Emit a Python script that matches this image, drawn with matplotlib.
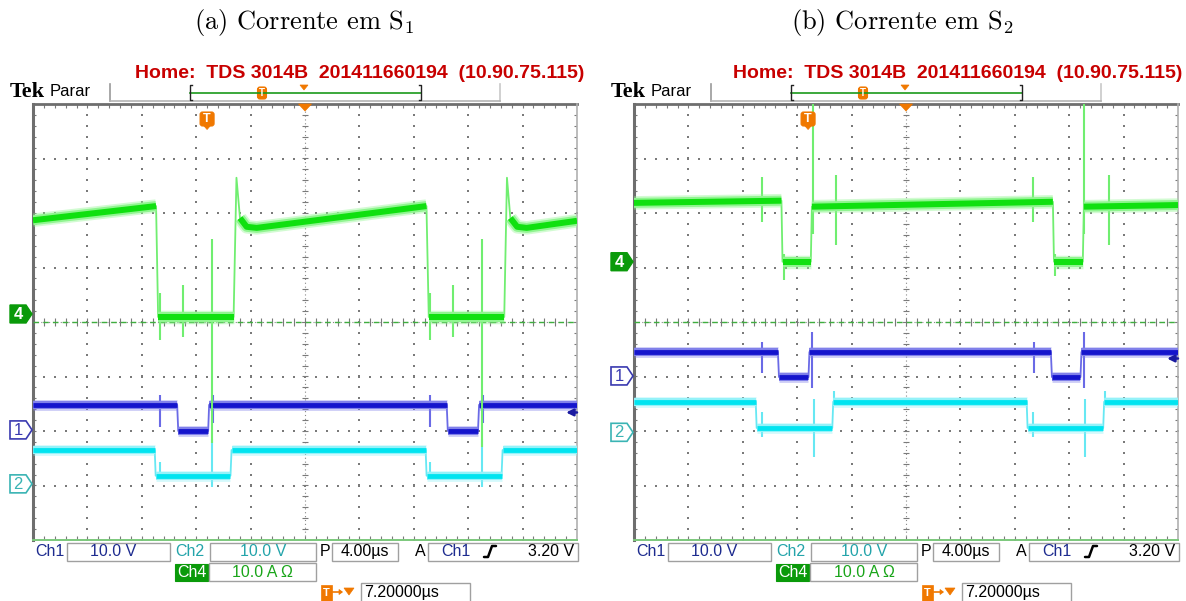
import numpy as np
import matplotlib
matplotlib.use("Agg")
import matplotlib.pyplot as plt
from matplotlib.patches import Polygon, Rectangle, FancyBboxPatch

plt.rcParams['mathtext.fontset'] = 'cm'
W, H = 1186, 601

# ---------------- data ----------------
titles = ["(a) Corrente em S$_1$", "(b) Corrente em S$_2$"]
header_text = "Home:  TDS 3014B  201411660194  (10.90.75.115)"
status_text = "Parar"
time_per_div = 4.0        # us / div
trigger_delay = 7.2       # us
trigger_level = 3.20      # V (Ch1)
ch1_scale = 10.0          # V / div
ch2_scale = 10.0          # V / div
ch4_scale = 10.0          # A / div
ch1_label = "10.0 V"
ch2_label = "10.0 V"
ch4_label = "10.0 A \u03a9"
time_label = "4.00\u00b5s"
trig_label = "3.20 V"
delay_label = "7.20000\u00b5s"

# panel (a): Ch4 = current in S1 [A], Ch1 / Ch2 = gate signals [V]
a_i_t = [0.0, 9.05, 9.2, 14.75, 14.96, 15.22, 15.71, 16.45, 28.93, 29.1, 34.65, 34.85, 35.1, 35.6, 36.3, 40.0]
a_i_v = [17.2, 19.8, -0.55, -0.55, 25.0, 17.6, 16.0, 15.8, 19.8, -0.55, -0.55, 25.0, 17.6, 16.0, 15.8, 17.1]
a_i_spk_t = [9.34, 11.03, 13.16, 29.19, 30.88, 33.05]
a_i_spk_hi = [3.9, 5.3, 13.8, 3.9, 5.3, 13.8]
a_i_spk_lo = [-4.8, -4.2, -23.7, -4.8, -4.2, -24.4]

a_v1_t = [0.0, 10.6, 10.68, 12.88, 12.95, 30.42, 30.5, 32.72, 32.8, 40.0]
a_v1_v = [4.6, 4.6, -0.2, -0.2, 4.6, 4.6, -0.2, -0.2, 4.6, 4.6]
a_v1_spk_t = [9.34, 13.2, 29.19, 33.1]
a_v1_spk_hi = [6.4, 6.4, 6.4, 6.4]
a_v1_spk_lo = [0.5, 1.3, 0.5, 1.3]

a_v2_t = [0.0, 8.95, 9.02, 14.52, 14.6, 28.87, 28.94, 34.45, 34.53, 40.0]
a_v2_v = [6.2, 6.2, 1.5, 1.5, 6.2, 6.2, 1.5, 1.5, 6.2, 6.2]
a_v2_spk_t = [9.34, 13.16, 29.19, 33.05]
a_v2_spk_hi = [4.1, 8.3, 4.1, 8.3]
a_v2_spk_lo = [1.0, -0.6, 1.0, -0.6]

# panel (b): Ch4 = current in S2 [A]
b_i_t = [0.0, 10.84, 10.92, 13.0, 13.08, 30.8, 30.88, 33.0, 33.08, 40.0]
b_i_v = [10.8, 11.2, 0.0, 0.0, 10.1, 11.0, 0.0, 0.0, 10.1, 10.4]
b_i_spk_t = [9.38, 11.03, 13.16, 14.85, 29.34, 30.98, 33.12, 34.93]
b_i_spk_hi = [15.6, 1.5, 29.5, 15.9, 15.6, 1.5, 29.5, 15.9]
b_i_spk_lo = [7.2, -3.4, 5.0, 3.1, 7.2, -2.7, 5.0, 3.1]

b_v1_t = [0.0, 10.58, 10.66, 12.83, 12.9, 30.65, 30.73, 32.83, 32.9, 40.0]
b_v1_v = [4.4, 4.4, -0.2, -0.2, 4.4, 4.4, -0.2, -0.2, 4.4, 4.4]
b_v1_spk_t = [9.38, 13.1, 29.41, 33.1]
b_v1_spk_hi = [6.3, 8.1, 6.3, 8.1]
b_v1_spk_lo = [0.6, -2.3, 0.6, -2.3]

b_v2_t = [0.0, 8.95, 9.02, 14.58, 14.65, 28.87, 28.94, 34.5, 34.57, 40.0]
b_v2_v = [5.6, 5.6, 0.8, 0.8, 5.6, 5.6, 0.8, 0.8, 5.6, 5.6]
b_v2_spk_t = [9.38, 13.24, 14.68, 29.34, 33.16, 34.6]
b_v2_spk_hi = [3.8, 6.1, 7.5, 3.8, 6.1, 7.5]
b_v2_spk_lo = [-0.8, -4.5, 5.6, -0.8, -4.5, 5.6]

# channel ground positions on screen (divisions from centre)
a_offsets = {"ch1": -1.98, "ch2": -2.97, "ch4": 0.147}
b_offsets = {"ch1": -0.99, "ch2": -2.024, "ch4": 1.106}

# ---------------- styling ----------------
GREEN_CORE, GREEN_FR, GREEN_EDGE = "#10e010", "#90f590", "#70ee70"
BLUE_CORE, BLUE_FR, BLUE_EDGE = "#1414cc", "#8080ea", "#6a6ae6"
CYAN_CORE, CYAN_FR, CYAN_EDGE = "#00e4f0", "#94f2f9", "#66e8f3"
ORANGE = "#f07800"
CH1_TXT, CH2_TXT, CH4_TXT = "#1d2b8f", "#23a4aa", "#1aa51a"
BOXC = "#a0a0a0"
SANS = "Liberation Sans"

fig = plt.figure(figsize=(W / 100, H / 100), dpi=100)
fig.patch.set_facecolor("white")
bg = fig.add_axes([0, 0, 1, 1], zorder=10)
bg.set_xlim(0, W)
bg.set_ylim(H, 0)
bg.axis("off")


def rect_fig(x0, y0, x1, y1):
    return [x0 / W, 1 - y1 / H, (x1 - x0) / W, (y1 - y0) / H]


def to_bg(ax, x, y):
    d = ax.transData.transform((x, y))
    return bg.transData.inverted().transform(d)


def draw_grid(g):
    g.set_xlim(0, 10)
    g.set_ylim(-4, 4)
    g.axis("off")
    sx = np.arange(0, 10.001, 0.2)
    sy = np.arange(-4, 4.001, 0.2)
    gc = "#7a7a7a"
    for xv in [1, 2, 3, 4, 6, 7, 8, 9]:
        g.scatter(np.full_like(sy, xv), sy, s=1.8, c=gc, marker="s", lw=0)
    for yv in [-3, -2, -1, 1, 2, 3]:
        g.scatter(sx, np.full_like(sx, yv), s=1.8, c=gc, marker="s", lw=0)
    g.plot([5, 5], [-4, 4], ls=(0, (1, 2.5)), color="#888888", lw=0.8)
    g.plot([0, 10], [0, 0], ls=(0, (1, 2.5)), color="#888888", lw=0.8)
    g.hlines(sy, 5 - 0.06, 5 + 0.06, color=gc, lw=0.8)
    g.vlines(sx, -0.075, 0.075, color=gc, lw=0.8)
    g.hlines(sy, 0, 0.06, color=gc, lw=0.8)
    g.hlines(sy, 10 - 0.06, 10, color=gc, lw=0.8)
    g.vlines(sx, 4 - 0.075, 4, color=gc, lw=0.8)
    g.vlines(sx, -4, -4 + 0.075, color=gc, lw=0.8)
    # centre dashed green reference line
    g.plot([0, 10], [0, 0], ls=(0, (4, 3)), color="#3fae3f", lw=1.0, zorder=3)
    # frame
    g.plot([0, 10], [4, 4], color="#6e6e6e", lw=2.0, clip_on=False)
    g.plot([0, 0], [-4, 4], color="#6e6e6e", lw=2.2, clip_on=False)
    g.plot([10, 10], [-4, 4], color="#b0b0b0", lw=1.2, clip_on=False)
    g.plot([0, 10], [-4, -4], color="#7cc87c", lw=1.4, clip_on=False)


def draw_channel(ax, t, v, st, shi, slo, core, fr, edge, band_px):
    t = np.asarray(t, float)
    v = np.asarray(v, float)
    ax.vlines(st, slo, shi, color=edge, lw=1.5, zorder=2)
    ax.plot(t, v, color=edge, lw=1.3, zorder=2)
    pts = ax.transData.transform(np.column_stack([t, v]))
    flat = []
    for i in range(len(t) - 1):
        dx = abs(pts[i + 1, 0] - pts[i, 0])
        dy = abs(pts[i + 1, 1] - pts[i, 1])
        flat.append(dx > 3 and dy < 2.0 * dx)
    i = 0
    while i < len(flat):
        if flat[i]:
            j = i
            while j < len(flat) and flat[j]:
                j += 1
            seg_t, seg_v = t[i:j + 1], v[i:j + 1]
            ax.plot(seg_t, seg_v, color=fr, lw=band_px * 0.72 * 1.35, alpha=0.4,
                    solid_capstyle="butt", zorder=3)
            ax.plot(seg_t, seg_v, color=fr, lw=band_px * 0.72, zorder=3,
                    solid_capstyle="butt")
            ax.plot(seg_t, seg_v, color=core, lw=band_px * 0.72 * 0.6, zorder=4,
                    solid_capstyle="butt")
            i = j
        else:
            i += 1


def box(x0, y0, x1, y1, ec=BOXC, fc="white", lw=1.0):
    bg.add_patch(Rectangle((x0, y0), x1 - x0, y1 - y0, ec=ec, fc=fc, lw=lw))


def chan_marker(xr, yc, label, filled, color):
    x0, x1 = xr - 22, xr
    pts = [(x0, yc - 9), (x1 - 6, yc - 9), (x1, yc), (x1 - 6, yc + 9), (x0, yc + 9)]
    if filled:
        bg.add_patch(Polygon(pts, closed=True, fc=color, ec=color, lw=1))
        bg.text(x0 + 8, yc + 0.5, label, color="white", fontsize=12, fontweight="bold",
                family=SANS, ha="center", va="center")
    else:
        bg.add_patch(Polygon(pts, closed=True, fc="white", ec=color, lw=1.2))
        bg.text(x0 + 8, yc + 0.5, label, color=color, fontsize=12,
                family=SANS, ha="center", va="center")


def t_icon(xc, y0, w, h, fs, point=False):
    bg.add_patch(FancyBboxPatch((xc - w / 2, y0), w, h, boxstyle="round,pad=0,rounding_size=2.5",
                                fc=ORANGE, ec=ORANGE, lw=0.8))
    if point:
        bg.add_patch(Polygon([(xc - 3.5, y0 + h - 0.5), (xc + 3.5, y0 + h - 0.5), (xc, y0 + h + 3.5)],
                             closed=True, fc=ORANGE, ec=ORANGE, lw=0.5))
    bg.text(xc, y0 + h / 2 + 0.5, "T", color="white", fontsize=fs, fontweight="bold",
            family=SANS, ha="center", va="center")


def down_tri(xc, ytop, w, h):
    bg.add_patch(Polygon([(xc - w / 2, ytop), (xc + w / 2, ytop), (xc, ytop + h)],
                         closed=True, fc=ORANGE, ec=ORANGE, lw=0.5))


panels = [
    (0, titles[0], a_offsets,
     (a_i_t, a_i_v, a_i_spk_t, a_i_spk_hi, a_i_spk_lo),
     (a_v1_t, a_v1_v, a_v1_spk_t, a_v1_spk_hi, a_v1_spk_lo),
     (a_v2_t, a_v2_v, a_v2_spk_t, a_v2_spk_hi, a_v2_spk_lo)),
    (601, titles[1], b_offsets,
     (b_i_t, b_i_v, b_i_spk_t, b_i_spk_hi, b_i_spk_lo),
     (b_v1_t, b_v1_v, b_v1_spk_t, b_v1_spk_hi, b_v1_spk_lo),
     (b_v2_t, b_v2_v, b_v2_spk_t, b_v2_spk_hi, b_v2_spk_lo)),
]

for ox, title, offs, d4, d1, d2 in panels:
    gx0, gx1, gy0, gy1 = 33 + ox, 577 + ox, 104, 540
    g = fig.add_axes(rect_fig(gx0, gy0, gx1, gy1), zorder=1)
    draw_grid(g)
    t_span = 10 * time_per_div
    axes = {}
    for k, (name, sc, data, cols, bpx) in enumerate([
            ("ch2", ch2_scale, d2, (CYAN_CORE, CYAN_FR, CYAN_EDGE), 8),
            ("ch1", ch1_scale, d1, (BLUE_CORE, BLUE_FR, BLUE_EDGE), 8),
            ("ch4", ch4_scale, d4, (GREEN_CORE, GREEN_FR, GREEN_EDGE), 10)]):
        ax = fig.add_axes(rect_fig(gx0, gy0, gx1, gy1), zorder=2 + k)
        o = offs[name]
        ax.set_xlim(0, t_span)
        ax.set_ylim(sc * (-4 - o), sc * (4 - o))
        ax.axis("off")
        draw_channel(ax, *data, *cols, bpx)
        axes[name] = ax

    # trigger level arrow (Ch1) at right edge
    ax1 = axes["ch1"]
    ax1.annotate("", xy=(t_span - 0.8, trigger_level), xytext=(t_span, trigger_level),
                 arrowprops=dict(arrowstyle="-|>", color="#1a1aa0", lw=1.8, mutation_scale=10,
                                 shrinkA=0, shrinkB=0), annotation_clip=False, zorder=6)

    # channel ground markers
    _, y4 = to_bg(axes["ch4"], 0, 0)
    _, y1 = to_bg(axes["ch1"], 0, 0)
    _, y2 = to_bg(axes["ch2"], 0, 0)
    chan_marker(gx0 - 1, y4, "4", True, "#0a9a0a")
    chan_marker(gx0 - 1, y1, "1", False, "#3a3ab0")
    chan_marker(gx0 - 1, y2, "2", False, "#3ab4b4")

    # trigger point icon at top of graticule
    xt, _ = to_bg(axes["ch1"], t_span / 2 - trigger_delay, 0)
    t_icon(xt, 112, 14, 14, 9, point=True)
    xc, _ = to_bg(axes["ch1"], t_span / 2, 0)
    down_tri(xc, 104, 13, 7)

    # title
    bg.text(304 + ox - 3 * (ox > 0), 23, title, family="cmr10", fontsize=19,
            ha="center", va="center", color="black")
    # header (right aligned)
    hx = 584 if ox == 0 else 1182
    bg.text(hx, 73, header_text, color="#c80000", fontsize=14, fontweight="bold",
            family=SANS, ha="right", va="center")
    bg.text(10 + ox, 92, "Tek", color="black", fontsize=16, fontweight="bold",
            family="Liberation Serif", ha="left", va="center")
    bg.text(50 + ox, 91, status_text, color="black", fontsize=12, family=SANS,
            ha="left", va="center")
    # record bar
    bg.plot([110 + ox, 110 + ox], [84, 101], color="#9a9a9a", lw=1.2)
    bg.plot([500 + ox, 500 + ox], [84, 101], color="#c8c8c8", lw=1.2)
    bg.plot([110 + ox, 500 + ox], [101, 101], color="#b4b4b4", lw=1.2)
    bg.plot([190 + ox, 421 + ox], [93, 93], color="#1a9a1a", lw=1.2)
    bg.plot([192 + ox, 190 + ox, 190 + ox, 192 + ox], [85, 85, 100, 100], color="#222222", lw=1.0)
    bg.plot([419 + ox, 421 + ox, 421 + ox, 419 + ox], [85, 85, 100, 100], color="#222222", lw=1.0)
    t_icon(262 + ox, 87, 9, 12, 7)
    down_tri(304 + ox, 85, 8, 5)

    # bottom readouts
    fs = 11.5
    bg.text(35 + ox, 551, "Ch1", color=CH1_TXT, fontsize=fs, family=SANS, ha="left", va="center")
    box(67 + ox, 543, 170 + ox, 561)
    bg.text(113 + ox, 551.5, ch1_label, color=CH1_TXT, fontsize=fs, family=SANS, ha="center", va="center")
    bg.text(175 + ox, 551, "Ch2", color=CH2_TXT, fontsize=fs, family=SANS, ha="left", va="center")
    box(210 + ox, 543, 316 + ox, 561)
    bg.text(263 + ox, 551.5, ch2_label, color=CH2_TXT, fontsize=fs, family=SANS, ha="center", va="center")
    bg.text(320 + ox, 551, "P", color="black", fontsize=fs, family=SANS, ha="left", va="center")
    box(332 + ox, 543, 398 + ox, 561)
    bg.text(365 + ox, 551.5, time_label, color="black", fontsize=fs, family=SANS, ha="center", va="center")
    bg.text(415 + ox, 551, "A", color="black", fontsize=fs, family=SANS, ha="left", va="center")
    box(428 + ox, 543, 578 + ox, 561)
    bg.text(441 + ox, 551, "Ch1", color=CH1_TXT, fontsize=fs, family=SANS, ha="left", va="center")
    bg.plot([484 + ox, 488 + ox, 492 + ox, 496 + ox], [557, 557, 546, 546], color="black", lw=1.8,
            solid_capstyle="round")
    bg.text(574 + ox, 551.5, trig_label, color="black", fontsize=fs, family=SANS, ha="right", va="center")
    # row 2
    bg.add_patch(Rectangle((175 + ox, 564), 33, 17, fc="#0a9a0a", ec="#0a9a0a", lw=0.8))
    bg.text(191.5 + ox, 572.5, "Ch4", color="white", fontsize=fs, family=SANS, ha="center", va="center")
    box(209 + ox, 563, 316 + ox, 581)
    bg.text(263 + ox, 572.5, ch4_label, color=CH4_TXT, fontsize=fs, family=SANS, ha="center", va="center")
    # row 3
    bg.add_patch(Rectangle((321 + ox, 585), 11, 16, fc=ORANGE, ec=ORANGE, lw=0.5))
    bg.text(326.5 + ox, 593.5, "T", color="white", fontsize=8, fontweight="bold", family=SANS,
            ha="center", va="center")
    bg.plot([333 + ox, 341 + ox], [592, 592], color=ORANGE, lw=1.2)
    bg.add_patch(Polygon([(339 + ox, 589.5), (342.5 + ox, 592), (339 + ox, 594.5)], closed=True,
                         fc=ORANGE, ec=ORANGE, lw=0.5))
    down_tri(349 + ox, 588, 10, 7)
    box(361 + ox, 583, 470 + ox, 603)
    bg.text(364 + ox, 593, delay_label, color="black", fontsize=fs, family=SANS, ha="left", va="center")

fig.savefig("out.png", dpi=100, facecolor="white")
